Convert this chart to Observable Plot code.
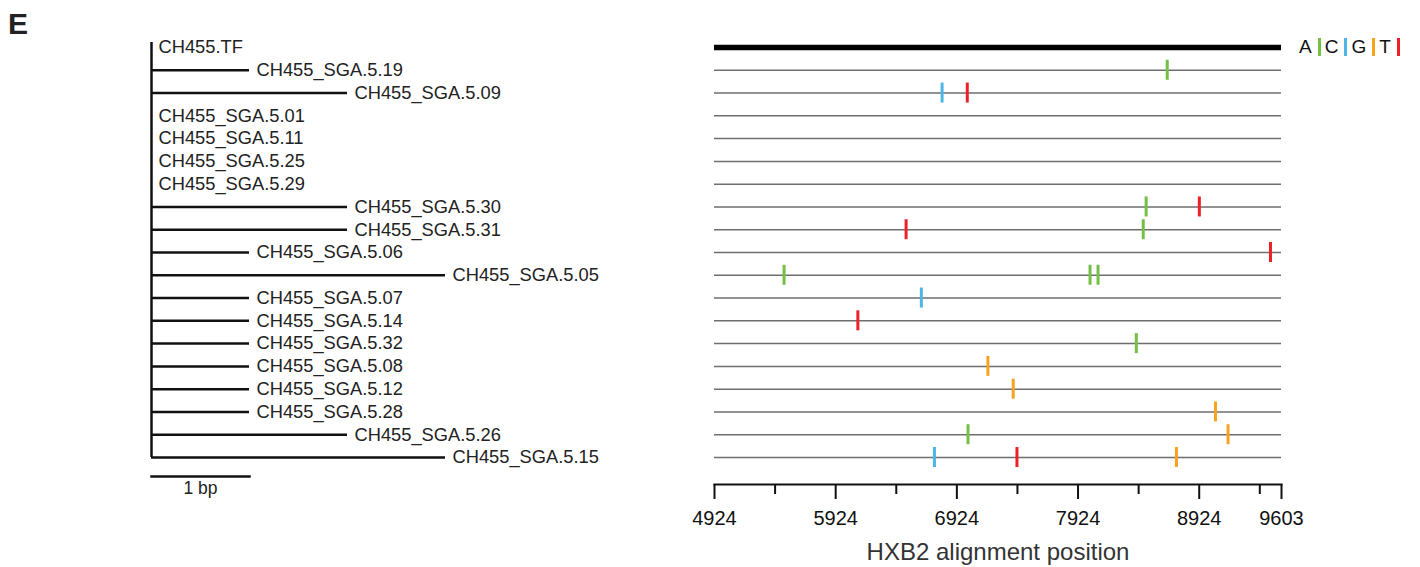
<!DOCTYPE html>
<html><head><meta charset="utf-8">
<script src="https://cdn.jsdelivr.net/npm/d3@7"></script>
<script src="https://cdn.jsdelivr.net/npm/@observablehq/plot@0.6"></script>
<style>
body{margin:0;background:#fff;font-family:"Liberation Sans",Arial,sans-serif;}
#wrap{position:relative;width:1420px;height:567px;overflow:hidden;background:#fff;}
#panel{position:absolute;left:8px;top:9px;font-size:30px;line-height:1;font-weight:bold;color:#222;}
#tree{position:absolute;left:0;top:0;}
#align{position:absolute;left:690px;top:0;}
#legend{position:absolute;left:1299px;top:36px;display:flex;align-items:center;font-size:19px;line-height:22px;color:#111;}
#legend .bar{display:inline-block;width:3px;height:18px;margin:0 4px 0 6px;}
</style></head>
<body>
<div id="wrap">
  <div id="panel">E</div>
  <div id="tree"></div>
  <div id="align"></div>
  <div id="legend"></div>
</div>
<script>
// ---- data ----
const names = ["CH455.TF","CH455_SGA.5.19","CH455_SGA.5.09","CH455_SGA.5.01","CH455_SGA.5.11","CH455_SGA.5.25","CH455_SGA.5.29","CH455_SGA.5.30","CH455_SGA.5.31","CH455_SGA.5.06","CH455_SGA.5.05","CH455_SGA.5.07","CH455_SGA.5.14","CH455_SGA.5.32","CH455_SGA.5.08","CH455_SGA.5.12","CH455_SGA.5.28","CH455_SGA.5.26","CH455_SGA.5.15"];
const branchLengths = [0,1,2,0,0,0,0,2,2,1,3,1,1,1,1,1,1,2,3];

const mutSeq = ["CH455_SGA.5.19","CH455_SGA.5.09","CH455_SGA.5.09","CH455_SGA.5.30","CH455_SGA.5.30","CH455_SGA.5.31","CH455_SGA.5.31","CH455_SGA.5.06","CH455_SGA.5.05","CH455_SGA.5.05","CH455_SGA.5.05","CH455_SGA.5.07","CH455_SGA.5.14","CH455_SGA.5.32","CH455_SGA.5.08","CH455_SGA.5.12","CH455_SGA.5.28","CH455_SGA.5.26","CH455_SGA.5.26","CH455_SGA.5.15","CH455_SGA.5.15","CH455_SGA.5.15"];
const mutPos = [8660,6802,7010,8486,8925,6505,8462,9512,5498,8023,8089,6631,6107,8405,7180,7389,9058,7016,9162,6739,7420,8736];
const mutBase = ["A","C","T","A","T","T","A","T","A","A","A","C","T","A","G","G","G","A","G","C","T","G"];

const bases = ["A","C","G","T"];
const baseColors = ["#74c045","#4db6e8","#f8a31f","#ed2027"];

const majorTicks = [4924,5924,6924,7924,8924,9603];
const minorTicks = [5424,6424,7424,8424,9424];
const axisTitle = ["HXB2 alignment position"];
const scaleBarLabel = ["1 bp"];

// ---- build ----
const FONT = '"Liberation Sans", Arial, Helvetica, sans-serif';
const tree = names.map((n, i) => ({name: n, len: branchLengths[i]}));
const muts = mutSeq.map((s, i) => ({seq: s, pos: mutPos[i], base: mutBase[i]}));
const firstName = names[0], lastName = names[names.length - 1];
const xStart = majorTicks[0], xEnd = majorTicks[majorTicks.length - 1];

const treePlot = Plot.plot({
  width: 690, height: 567,
  marginLeft: 151, marginRight: 441, marginTop: 0, marginBottom: 91,
  x: {domain: [0, 1], axis: null},
  y: {type: "point", domain: names, range: [47, 457], padding: 0, round: false, axis: null},
  style: {fontFamily: FONT, fontSize: "18.3px", color: "#222", background: "transparent", overflow: "visible"},
  marks: [
    Plot.frame({anchor: "bottom", stroke: "#111", strokeWidth: 2.5}),
    Plot.ruleX([0], {x: d => d, y1: () => firstName, y2: () => lastName, insetTop: -5, stroke: "#111", strokeWidth: 2.5}),
    Plot.ruleY(tree.filter(d => d.len > 0), {y: "name", x1: () => 0, x2: "len", stroke: "#111", strokeWidth: 2.5}),
    Plot.text(tree, {x: "len", y: "name", text: "name", textAnchor: "start", dx: 7, fill: "#222", fontSize: 18.3}),
    Plot.text(scaleBarLabel, {frameAnchor: "bottom", dy: 17, text: d => d, fill: "#222", fontSize: 17.5})
  ]
});
document.getElementById("tree").appendChild(treePlot);

const alignPlot = Plot.plot({
  width: 730, height: 567,
  marginLeft: 24, marginRight: 139, marginTop: 0, marginBottom: 83,
  x: {domain: [xStart, xEnd]},
  y: {type: "point", domain: names, range: [47, 457], padding: 0, round: false, axis: null},
  color: {domain: bases, range: baseColors},
  style: {fontFamily: FONT, fontSize: "20px", color: "#111", background: "transparent", overflow: "visible"},
  marks: [
    Plot.ruleY(names.slice(1), {y: d => d, x1: () => xStart, x2: () => xEnd, stroke: "#6e6e6e", strokeWidth: 1.5}),
    Plot.ruleY([firstName], {y: d => d, x1: () => xStart, x2: () => xEnd, stroke: "#000", strokeWidth: 5.5}),
    Plot.ruleX(muts, {x: "pos", y1: "seq", y2: "seq", stroke: "base", strokeWidth: 3, insetTop: -10, insetBottom: -10}),
    Plot.frame({anchor: "bottom", stroke: "#111", strokeWidth: 2}),
    Plot.axisX({ticks: minorTicks, tickSize: 10, tickFormat: () => "", stroke: "#111", strokeWidth: 2, label: null}),
    Plot.axisX({ticks: majorTicks, tickSize: 15, tickPadding: 11, tickFormat: d => String(d), stroke: "#111", strokeWidth: 2, label: null, fontSize: 20, fill: "#111"}),
    Plot.text(axisTitle, {frameAnchor: "bottom", dy: 75, text: d => d, fontSize: 24, fill: "#333"})
  ]
});
document.getElementById("align").appendChild(alignPlot);

// legend
const leg = document.getElementById("legend");
bases.forEach((b, i) => {
  const t = document.createElement("span"); t.textContent = b; leg.appendChild(t);
  const s = document.createElement("span"); s.className = "bar"; s.style.background = baseColors[i]; leg.appendChild(s);
});
</script>
</body></html>
